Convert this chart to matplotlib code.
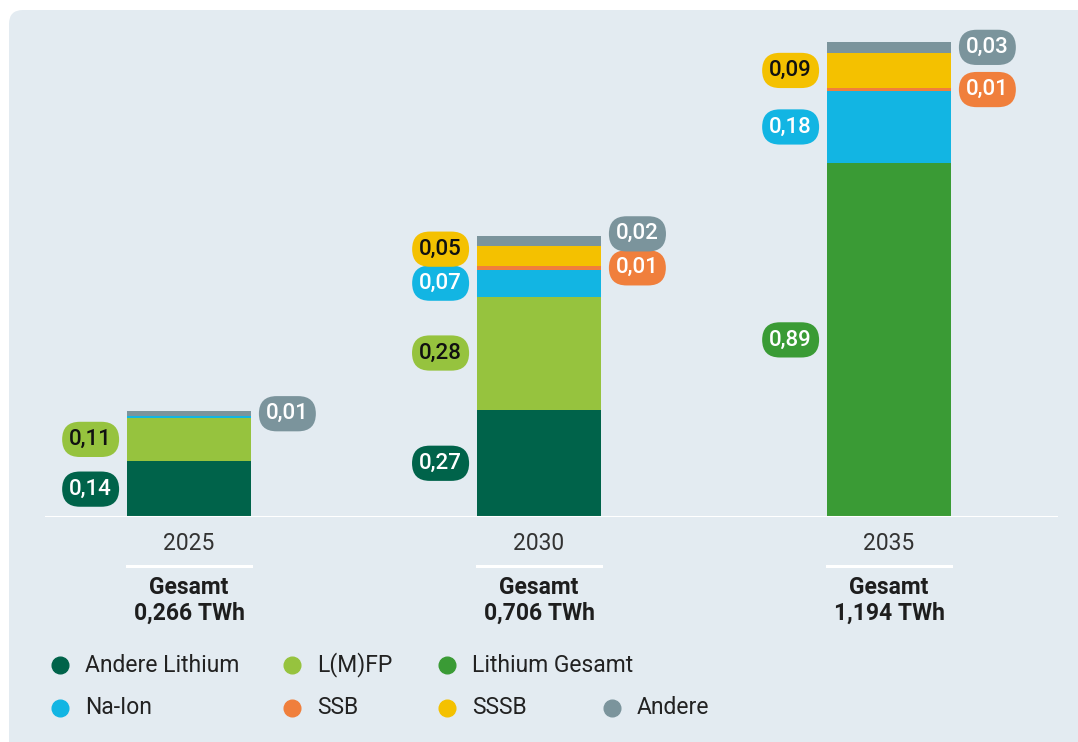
import matplotlib
matplotlib.use("Agg")
import numpy as np
import matplotlib.pyplot as plt
from matplotlib.patches import FancyBboxPatch
from matplotlib.lines import Line2D
from matplotlib.transforms import IdentityTransform

# data (TWh)
years = ["2025", "2030", "2035"]
totals = ["0,266 TWh", "0,706 TWh", "1,194 TWh"]
series = ["Andere Lithium", "L(M)FP", "Lithium Gesamt", "Na-Ion", "SSB", "SSSB", "Andere"]
andere_lithium = [0.14, 0.27, 0.0]
lmfp = [0.11, 0.284, 0.0]
lithium_gesamt = [0.0, 0.0, 0.89]
na_ion = [0.003, 0.067, 0.18]
ssb = [0.0, 0.01, 0.008]
sssb = [0.0, 0.05, 0.088]
andere = [0.013, 0.024, 0.028]

colors = ["#00634a", "#96c33e", "#3a9b35", "#12b5e3", "#f07f3c", "#f4c100", "#7b949c"]
text_colors = ["white", "#111111", "white", "white", "white", "#111111", "white"]
label_side = ["left", "left", "left", "left", "right", "left", "right"]
min_label = 0.005  # segments smaller than this get no label

values = np.array([andere_lithium, lmfp, lithium_gesamt, na_ion, ssb, sssb, andere])

plt.rcParams['font.family'] = ['Roboto', 'DejaVu Sans']
bg = "#e3ebf1"

fig = plt.figure(figsize=(10.78, 7.42), dpi=100)
panel = FancyBboxPatch((9, -60), 1200, 792, boxstyle="round,pad=0,rounding_size=14",
                       transform=IdentityTransform(), facecolor=bg, edgecolor="none",
                       figure=fig, zorder=-5)
fig.patches.append(panel)

W, H = 1078, 742
px_per_twh = 398
base_px, top_px, left_px, right_px = 517, 27, 45, 1058
ax = fig.add_axes([left_px / W, (H - base_px) / H, (right_px - left_px) / W, (base_px - top_px) / H])
ax.set_zorder(2)
ax.patch.set_alpha(0)
spacing = 350
x = np.arange(len(years))
ax.set_xlim((left_px - 189) / spacing, (right_px - 189) / spacing)
ax.set_ylim(0, (base_px - top_px) / px_per_twh)
ax.axis("off")
bw = 124 / spacing

bottom = np.zeros(len(years))
for i, name in enumerate(series):
    ax.bar(x, values[i], bw, bottom=bottom, color=colors[i], zorder=2, linewidth=0)
    bottom += values[i]
ax.axhline(0, color="white", lw=2.2, zorder=3)

# labels with simple upward collision handling
gap = 34 / px_per_twh
for j in range(len(years)):
    cum = np.concatenate([[0], np.cumsum(values[:, j])])
    for side in ["left", "right"]:
        items = []
        for i in range(len(series)):
            if label_side[i] == side and values[i, j] >= min_label:
                items.append([cum[i] + values[i, j] / 2, i])
        items.sort()
        for k in range(1, len(items)):
            if items[k][0] - items[k - 1][0] < gap:
                items[k][0] = items[k - 1][0] + gap
        for ypos, i in items:
            txt = f"{values[i, j]:.2f}".replace(".", ",")
            if side == "left":
                xpos, off, ha = x[j] - bw / 2, -15, "right"
            else:
                xpos, off, ha = x[j] + bw / 2, 15, "left"
            ax.annotate(txt, (xpos, ypos), xytext=(off * 0.72, 0), textcoords="offset points",
                        ha=ha, va="center", fontsize=16, fontweight="medium", color=text_colors[i],
                        bbox=dict(boxstyle="round,pad=0.32,rounding_size=0.8", fc=colors[i], ec="none"),
                        zorder=5)

# year labels and totals
tr = ax.get_xaxis_transform()
hpx = base_px - top_px
for j in range(len(years)):
    ax.text(x[j], -(544 - base_px) / hpx, years[j], transform=tr, ha="center", va="center",
            fontsize=16.5, color="#333333")
    ax.plot([x[j] - bw / 2, x[j] + bw / 2], [-(566 - base_px) / hpx] * 2, transform=tr,
            color="white", lw=2.2, clip_on=False)
    ax.text(x[j], -(587 - base_px) / hpx, "Gesamt", transform=tr, ha="center", va="center",
            fontsize=16.5, fontweight="bold", color="#1e1e1e")
    ax.text(x[j], -(613 - base_px) / hpx, totals[j], transform=tr, ha="center", va="center",
            fontsize=16.5, fontweight="bold", color="#1e1e1e")

# legend, two rows
rows = [[0, 1, 2], [3, 4, 5, 6]]
col_px = [60, 292, 447, 612]
row_px = [665, 708]
for r, idxs in enumerate(rows):
    for c, i in enumerate(idxs):
        fx, fy = col_px[c] / W, 1 - row_px[r] / H
        fig.add_artist(Line2D([fx], [fy], marker="o", markersize=12, color=colors[i],
                              linestyle="none", transform=fig.transFigure))
        fig.text(fx + 25 / W, fy, series[i], ha="left", va="center", fontsize=16.5, color="#222222")

fig.savefig("out.png", dpi=100, facecolor="white")
